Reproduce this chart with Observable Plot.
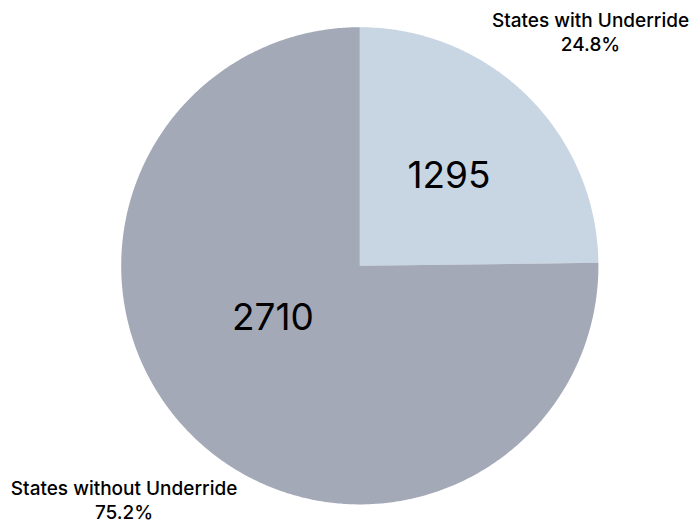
<!DOCTYPE html>
<html>
<head>
<meta charset="utf-8">
<script src="https://cdn.jsdelivr.net/npm/d3@7"></script>
<script src="https://cdn.jsdelivr.net/npm/@observablehq/plot@0.6"></script>
<style>
  html, body { margin: 0; padding: 0; background: #fff; }
  #chart { width: 694px; height: 525px; }
</style>
</head>
<body>
<div id="chart"></div>
<script>
// ---- data ----
const categories = ["States with Underride", "States without Underride"];
const counts = [1295, 2710];
const percents = [24.8, 75.2];
const percentLabels = ["24.8%", "75.2%"];
const colors = ["#c8d5e2", "#a4a9b7"];

// ---- layout (in pie-radius units) ----
const W = 694, H = 525;
const cx = 359.3, cy = 265.3, R = 238.6;
const insideLabelPos = [[0.374, 0.374], [-0.364, -0.221]];
const outsideLabelPos = [[0.967, 0.902], [-0.988, -1.062]];

// slice angles from percentages (clockwise from 12 o'clock)
const arcs = d3.pie().sort(null)(percents);
const slicePoints = [];
arcs.forEach((a, i) => {
  const n = Math.max(2, Math.ceil((a.endAngle - a.startAngle) / (Math.PI / 360)));
  slicePoints.push({cat: categories[i], x: 0, y: 0});
  for (let k = 0; k <= n; k++) {
    const t = a.startAngle + (a.endAngle - a.startAngle) * k / n;
    slicePoints.push({cat: categories[i], x: Math.sin(t), y: Math.cos(t)});
  }
  slicePoints.push({cat: categories[i], x: 0, y: 0});
});

const inside = categories.map((c, i) => ({cat: c, value: counts[i], x: insideLabelPos[i][0], y: insideLabelPos[i][1]}));
const outside = categories.map((c, i) => ({cat: c, label: c + "\n" + percentLabels[i], x: outsideLabelPos[i][0], y: outsideLabelPos[i][1]}));

const chart = Plot.plot({
  width: W,
  height: H,
  margin: 0,
  style: {fontFamily: "Inter, 'Noto Sans', sans-serif", background: "#fff", color: "#000"},
  x: {domain: [-cx / R, (W - cx) / R], axis: null},
  y: {domain: [-(H - cy) / R, cy / R], axis: null},
  color: {domain: categories, range: colors},
  marks: [
    Plot.line(slicePoints, {x: "x", y: "y", z: "cat", fill: "cat", stroke: null, curve: "linear"}),
    Plot.text(inside, {x: "x", y: "y", text: d => String(d.value), fontSize: 37, fontWeight: 400, fill: "#000", lineAnchor: "middle"}),
    Plot.text(outside, {x: "x", y: "y", text: "label", fontSize: 19, fontWeight: 500, fill: "#000", lineAnchor: "bottom", lineHeight: 1.25})
  ]
});
document.getElementById("chart").appendChild(chart);
</script>
</body>
</html>
